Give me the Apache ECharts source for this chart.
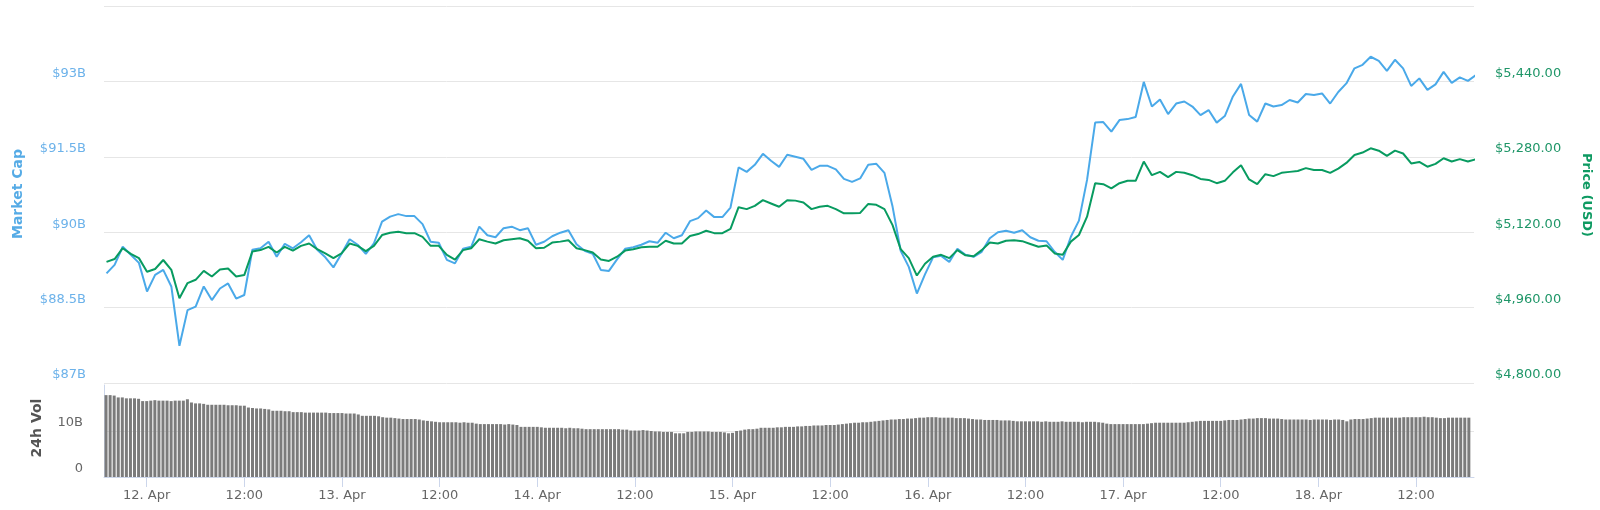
<!DOCTYPE html>
<html>
<head>
<meta charset="utf-8">
<script src="https://cdn.jsdelivr.net/npm/echarts@6/dist/echarts.min.js"></script>
<style>
html,body{margin:0;padding:0;background:#fff;}
#chart{width:1600px;height:510px;}
</style>
</head>
<body>
<div id="chart"></div>
<script>
// ---- data ----
// line samples: roughly hourly, first sample 11 Apr 19:03 UTC
const lineStart = Date.UTC(2019, 3, 11, 19, 3, 30);
const lineStepMin = 59.76;
const marketCap = [ // billions USD
89.18,89.35,89.71,89.55,89.39,88.82,89.15,89.25,88.92,87.74,
88.45,88.52,88.92,88.65,88.88,88.98,88.68,88.75,89.65,89.68,
89.81,89.51,89.77,89.68,89.80,89.94,89.65,89.50,89.30,89.57,
89.86,89.75,89.57,89.78,90.21,90.31,90.36,90.32,90.32,90.16,
89.81,89.79,89.45,89.38,89.67,89.71,90.11,89.94,89.90,90.08,
90.11,90.04,90.08,89.75,89.81,89.92,89.99,90.04,89.76,89.63,
89.57,89.25,89.23,89.46,89.67,89.70,89.75,89.82,89.79,89.99,
89.88,89.94,90.22,90.28,90.43,90.30,90.30,90.49,91.29,91.20,
91.34,91.56,91.42,91.30,91.54,91.50,91.46,91.24,91.32,91.32,
91.25,91.06,91.00,91.07,91.34,91.36,91.18,90.51,89.63,89.31,
88.78,89.16,89.50,89.53,89.41,89.67,89.55,89.51,89.61,89.88,
90.00,90.03,89.99,90.04,89.90,89.83,89.82,89.61,89.45,89.91,
90.23,91.04,92.18,92.19,92.00,92.23,92.25,92.29,92.99,92.50,
92.64,92.35,92.56,92.60,92.50,92.33,92.43,92.18,92.31,92.70,
92.95,92.33,92.20,92.56,92.50,92.53,92.63,92.58,92.75,92.73,
92.76,92.56,92.79,92.96,93.26,93.33,93.49,93.41,93.21,93.43,
93.26,92.91,93.06,92.83,92.94,93.19,92.97,93.08,93.01,93.13
];
const price = [ // USD
5057,5063,5086,5074,5065,5036,5042,5061,5040,4980,
5012,5019,5038,5026,5041,5043,5026,5029,5079,5082,
5089,5077,5089,5081,5091,5096,5084,5075,5065,5075,
5096,5091,5080,5091,5114,5119,5121,5118,5118,5110,
5091,5091,5072,5062,5082,5086,5105,5100,5096,5103,
5105,5107,5102,5086,5087,5098,5100,5103,5086,5082,
5077,5062,5059,5068,5081,5084,5088,5089,5089,5102,
5096,5096,5112,5116,5123,5118,5118,5127,5173,5169,
5176,5188,5181,5174,5188,5187,5183,5169,5174,5176,
5169,5160,5160,5161,5180,5178,5169,5135,5084,5065,
5028,5053,5068,5072,5065,5082,5071,5069,5082,5098,
5096,5102,5103,5101,5095,5089,5092,5075,5072,5100,
5114,5153,5224,5222,5213,5224,5229,5229,5270,5241,
5248,5237,5248,5246,5241,5233,5231,5224,5229,5247,
5262,5232,5222,5243,5239,5246,5248,5250,5256,5252,
5252,5246,5255,5267,5284,5289,5298,5293,5282,5293,
5287,5266,5269,5259,5265,5277,5270,5275,5270,5275
];
// 24h volume: half-hourly from 11 Apr 19:00 UTC, billions USD
const volStart = Date.UTC(2019, 3, 11, 19, 0);
const volStepMin = 30;
const volume = [
17.8,17.8,17.7,17.3,17.3,17.1,17.1,17.1,17.0,16.5,16.5,16.6,
16.7,16.6,16.6,16.6,16.5,16.6,16.6,16.6,16.9,16.2,16.0,16.0,15.9,
15.7,15.7,15.7,15.7,15.7,15.6,15.6,15.6,15.5,15.5,
15.1,15.0,14.9,14.9,14.8,14.7,14.4,14.4,14.4,14.3,14.3,
14.1,14.1,14.1,14.0,14.0,14.0,14.0,14.0,14.0,13.9,
13.9,13.9,13.9,13.8,13.8,13.8,13.6,13.3,13.3,13.3,13.3,13.2,
13.0,12.9,12.9,12.8,12.7,12.6,12.6,12.6,12.6,12.5,12.3,12.2,12.1,
12.0,11.9,11.9,11.9,11.9,11.9,11.8,11.9,11.8,11.8,
11.6,11.5,11.5,11.5,11.5,11.5,11.5,11.4,11.5,11.4,11.3,
10.9,10.9,10.9,10.9,10.9,10.8,
10.7,10.7,10.7,10.7,10.7,10.6,10.7,10.6,10.6,
10.5,10.4,10.4,10.4,10.4,10.4,10.4,10.4,10.4,10.4,10.3,10.3,
10.1,10.1,10.1,10.2,10.1,10.0,9.9,9.9,9.8,9.8,9.8,9.5,9.5,9.5,
9.8,9.8,9.9,9.9,9.9,9.9,9.8,9.8,9.8,9.7,9.5,9.6,10.0,10.1,
10.3,10.4,10.4,10.5,10.7,10.7,10.7,10.7,10.8,10.8,10.9,10.9,10.9,11.0,
11.0,11.1,11.1,11.2,11.2,11.2,11.3,11.3,11.3,11.4,11.5,
11.6,11.7,11.8,11.8,11.9,11.9,12.0,12.1,
12.2,12.3,12.4,12.5,12.5,12.6,12.6,12.7,12.7,12.8,
12.9,12.9,13.0,13.0,13.0,12.9,12.9,12.9,12.9,12.8,12.8,12.8,12.7,12.6,
12.5,12.5,12.4,12.4,12.4,12.4,12.3,12.3,12.3,12.2,
12.1,12.1,12.1,12.1,12.1,12.1,12.0,12.1,
12.0,12.0,12.0,12.1,12.0,12.0,12.0,12.0,11.9,12.0,12.0,12.0,11.9,11.8,
11.6,11.5,11.5,11.5,11.5,11.5,11.5,11.5,11.5,11.5,11.6,
11.7,11.8,11.8,11.8,11.8,11.8,11.8,11.8,11.8,11.9,12.0,
12.1,12.2,12.2,12.2,12.2,12.2,12.2,12.3,12.4,12.4,12.4,12.5,
12.6,12.7,12.7,12.8,12.8,12.8,12.7,12.7,12.7,12.6,
12.5,12.5,12.5,12.5,12.5,12.5,12.4,12.5,12.5,12.5,12.5,12.4,12.5,12.5,12.4,
12.1,12.5,12.6,12.6,12.6,12.7,12.8,12.9,12.9,12.9,12.9,12.9,12.9,
12.9,13.0,13.0,13.0,13.0,13.0,13.1,13.0,13.0,
12.9,12.8,12.8,12.9,12.9,12.9,12.9,12.9,12.9
];
// x-axis ticks
const tickLabels = ['12. Apr','12:00','13. Apr','12:00','14. Apr','12:00','15. Apr','12:00','16. Apr','12:00','17. Apr','12:00','18. Apr','12:00'];
const tickStart = Date.UTC(2019, 3, 12, 0, 0);
const xMin = Date.UTC(2019, 3, 11, 18, 45);
const xMax = Date.UTC(2019, 3, 18, 19, 8);

// ---- build ----
const MIN = 60000;
const tickTimes = tickLabels.map((_, k) => tickStart + k * 12 * 60 * MIN);
const mcData = marketCap.map((v, i) => [lineStart + i * lineStepMin * MIN, v]);
const prData = price.map((v, i) => [lineStart + i * lineStepMin * MIN, v]);
const volData = volume.map((v, j) => [volStart + j * volStepMin * MIN, v]);

const FONT = '"DejaVu Sans", Verdana, sans-serif';
function money(v) {
  const s = v.toFixed(2).split('.');
  return '$' + s[0].replace(/\B(?=(\d{3})+(?!\d))/g, ',') + '.' + s[1];
}

const chart = echarts.init(document.getElementById('chart'), null, {renderer: 'canvas'});
chart.setOption({
  animation: false,
  backgroundColor: '#ffffff',
  grid: [
    {left: 104, right: 126, top: 6, height: 377},
    {left: 104, right: 126, top: 385, height: 92}
  ],
  xAxis: [
    {type: 'value', gridIndex: 0, min: xMin, max: xMax, show: false},
    {type: 'value', gridIndex: 1, min: xMin, max: xMax,
      axisLine: {show: true, lineStyle: {color: '#ccd6eb', width: 1}},
      axisTick: {show: true, length: 10, customValues: tickTimes, lineStyle: {color: '#ccd6eb'}},
      splitLine: {show: false},
      axisLabel: {customValues: tickTimes, margin: 12, color: '#666666', fontSize: 13, fontFamily: FONT,
        formatter: function (v) { const k = tickTimes.indexOf(v); return k >= 0 ? tickLabels[k] : ''; }}
    }
  ],
  yAxis: [
    {type: 'value', gridIndex: 0, position: 'left', min: 87, max: 94.5, interval: 1.5,
      axisLine: {show: false}, axisTick: {show: false},
      splitLine: {lineStyle: {color: '#e6e6e6', width: 1}},
      axisLabel: {showMaxLabel: false, margin: 18, color: '#6cb2ea', fontSize: 13, fontFamily: FONT,
        verticalAlign: 'bottom', lineHeight: 16,
        formatter: v => '$' + v + 'B'}
    },
    {type: 'value', gridIndex: 0, position: 'right', min: 4800, max: 5600, interval: 160,
      axisLine: {show: false}, axisTick: {show: false}, splitLine: {show: false},
      axisLabel: {showMaxLabel: false, margin: 21, color: '#1f9668', fontSize: 13, fontFamily: FONT,
        verticalAlign: 'bottom', lineHeight: 16,
        formatter: v => money(v)}
    },
    {type: 'value', gridIndex: 1, min: 0, max: 20, interval: 10,
      axisLine: {show: true, lineStyle: {color: '#ccd6eb'}}, axisTick: {show: false},
      splitLine: {show: true, showMaxLine: false, lineStyle: {color: '#e6e6e6'}},
      axisLabel: {showMaxLabel: false, margin: 21, color: '#666666', fontSize: 13, fontFamily: FONT,
        verticalAlign: 'bottom', lineHeight: 16,
        formatter: v => v === 0 ? '0' : v + 'B'}
    }
  ],
  graphic: [
    {type: 'text', x: 18, y: 194, rotation: Math.PI / 2,
      style: {text: 'Market Cap', fill: '#55abe6', font: 'bold 14px ' + FONT, textAlign: 'center', textVerticalAlign: 'middle'}},
    {type: 'text', x: 37, y: 428, rotation: Math.PI / 2,
      style: {text: '24h Vol', fill: '#555555', font: 'bold 14px ' + FONT, textAlign: 'center', textVerticalAlign: 'middle'}},
    {type: 'text', x: 1586, y: 195, rotation: -Math.PI / 2,
      style: {text: 'Price (USD)', fill: '#0e9a62', font: 'bold 13px ' + FONT, textAlign: 'center', textVerticalAlign: 'middle'}}
  ],
  series: [
    {name: 'Market Cap', type: 'line', xAxisIndex: 0, yAxisIndex: 0, data: mcData,
      showSymbol: false, clip: true, lineStyle: {color: '#4aa9e9', width: 2}, itemStyle: {color: '#4aa9e9'}},
    {name: 'Price (USD)', type: 'line', xAxisIndex: 0, yAxisIndex: 1, data: prData,
      showSymbol: false, clip: true, lineStyle: {color: '#089b60', width: 2}, itemStyle: {color: '#089b60'}},
    {name: '24h Vol', type: 'bar', xAxisIndex: 1, yAxisIndex: 2, data: volData,
      barWidth: 3, itemStyle: {color: '#7b7b7b'}}
  ]
});
</script>
</body>
</html>
